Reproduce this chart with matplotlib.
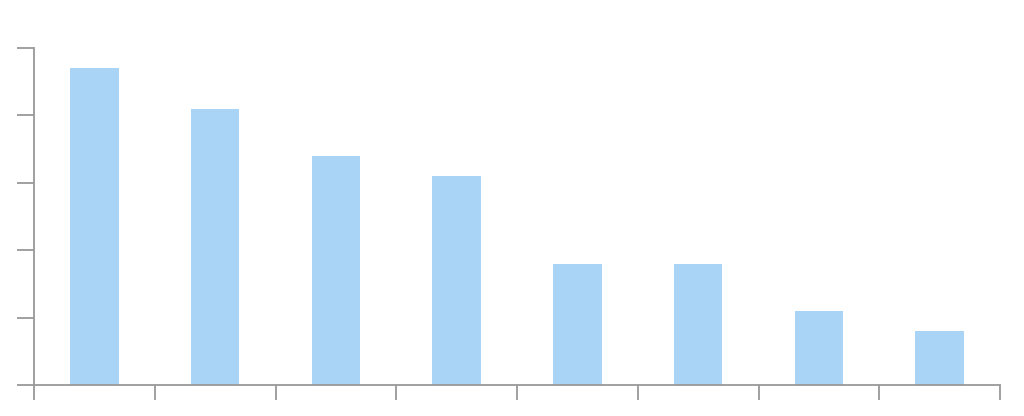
import numpy as np
import matplotlib
matplotlib.use("Agg")
import matplotlib.pyplot as plt

categories = ["A", "B", "C", "D", "E", "F", "G", "H"]
values = [47, 41, 34, 31, 18, 18, 11, 8]
y_ticks = [0, 10, 20, 30, 40, 50]

fig = plt.figure(figsize=(10.24, 4.16), dpi=100)
ax = fig.add_axes([34 / 1024, 31 / 416, 966 / 1024, 337 / 416])

x = np.arange(len(categories))
ax.bar(x, values, width=0.4, color="#aad4f5")

ax.set_xlim(-0.5, len(categories) - 0.5)
ax.set_ylim(0, 50)
ax.set_xticks(np.arange(len(categories) + 1) - 0.5)
ax.set_yticks(y_ticks)
ax.set_xticklabels([])
ax.set_yticklabels([])

axis_color = "#999999"
for side in ["top", "right"]:
    ax.spines[side].set_visible(False)
for side in ["left", "bottom"]:
    ax.spines[side].set_color(axis_color)
    ax.spines[side].set_linewidth(1.3)
ax.tick_params(axis="x", direction="out", length=11, width=1.3, color=axis_color)
ax.tick_params(axis="y", direction="out", length=12, width=1.3, color=axis_color)

fig.savefig("out.png", dpi=100)
